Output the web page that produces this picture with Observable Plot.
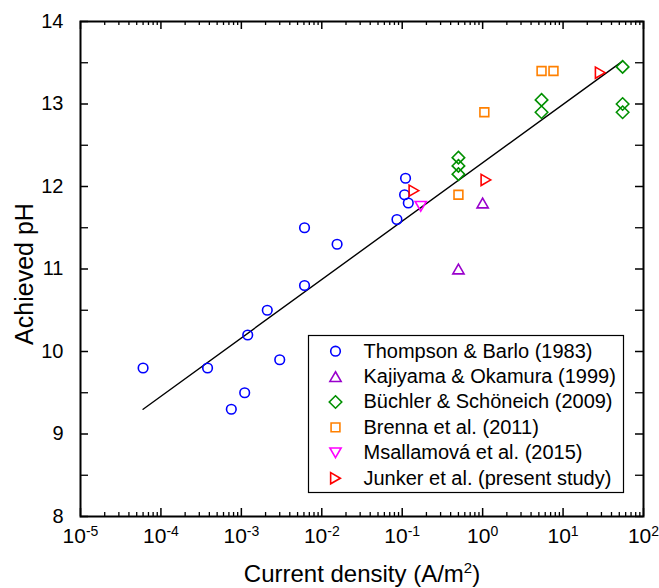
<!DOCTYPE html>
<html>
<head>
<meta charset="utf-8">
<script src="https://cdn.jsdelivr.net/npm/d3@7"></script>
<script src="https://cdn.jsdelivr.net/npm/@observablehq/plot@0.6"></script>
<style>
  html, body { margin: 0; padding: 0; background: #fff; }
  #chart { width: 659px; height: 588px; }
</style>
</head>
<body>
<div id="chart"></div>
<script>
// ---------------- data ----------------
const thompsonX = [6e-5, 3.8e-4, 7.5e-4, 1.1e-3, 1.2e-3, 2.1e-3, 3.0e-3, 6.1e-3, 6.1e-3, 0.0155, 0.086, 0.107, 0.110, 0.119];
const thompsonY = [9.8, 9.8, 9.3, 9.5, 10.2, 10.5, 9.9, 10.8, 11.5, 11.3, 11.6, 11.9, 12.1, 11.8];

const kajiyamaX = [0.5, 1.0];
const kajiyamaY = [11.0, 11.8];

const buchlerX = [0.5, 0.5, 0.5, 5.4, 5.4, 55, 55, 55];
const buchlerY = [12.35, 12.25, 12.15, 13.05, 12.9, 13.45, 13.0, 12.9];

const brennaX = [5.4, 7.6, 1.05, 0.5];
const brennaY = [13.4, 13.4, 12.9, 11.9];

const msallamovaX = [0.17];
const msallamovaY = [11.76];

const junkerX = [0.14, 1.1, 29];
const junkerY = [11.95, 12.08, 13.38];

const fitX = [6e-5, 55];
const fitY = [9.30, 13.52];

const seriesNames = [
  "Thompson & Barlo (1983)",
  "Kajiyama & Okamura (1999)",
  "Büchler & Schöneich (2009)",
  "Brenna et al. (2011)",
  "Msallamová et al. (2015)",
  "Junker et al. (present study)"
];
const seriesColors = ["#0000ff", "#9900cc", "#009000", "#ff8000", "#ff00ff", "#ff0000"];

const xTickValues = [1e-5, 1e-4, 1e-3, 1e-2, 1e-1, 1e0, 1e1, 1e2];
const xTickExponents = ["-5", "-4", "-3", "-2", "-1", "0", "1", "2"];
const yTickValues = [8, 9, 10, 11, 12, 13, 14];
const yMinorValues = [8.5, 9.5, 10.5, 11.5, 12.5, 13.5];

const xTitleMain = "Current density (A/m";
const xTitleSup = "2";
const xTitleEnd = ")";
const yTitle = "Achieved pH";

// ---------------- symbols ----------------
function sym(fn) { return { draw(ctx, size) { fn(ctx, Math.sqrt(size / Math.PI)); } }; }
const symCircle = sym((c, u) => { c.moveTo(u, 0); c.arc(0, 0, u, 0, 2 * Math.PI); c.closePath(); });
const symSquare = sym((c, u) => { const s = 0.92 * u; c.moveTo(-s, -s); c.lineTo(s, -s); c.lineTo(s, s); c.lineTo(-s, s); c.closePath(); });
const symDiamond = sym((c, u) => { const d = 1.3 * u; c.moveTo(0, -d); c.lineTo(d, 0); c.lineTo(0, d); c.lineTo(-d, 0); c.closePath(); });
const symUp = sym((c, u) => { const R = 1.35 * u; c.moveTo(0, -0.75 * R); c.lineTo(0.866 * R, 0.75 * R); c.lineTo(-0.866 * R, 0.75 * R); c.closePath(); });
const symDown = sym((c, u) => { const R = 1.35 * u; c.moveTo(0, 0.75 * R); c.lineTo(0.866 * R, -0.75 * R); c.lineTo(-0.866 * R, -0.75 * R); c.closePath(); });
const symRight = sym((c, u) => { const R = 1.35 * u; c.moveTo(0.75 * R, 0); c.lineTo(-0.75 * R, 0.866 * R); c.lineTo(-0.75 * R, -0.866 * R); c.closePath(); });

const seriesSymbols = [symCircle, symUp, symDiamond, symSquare, symDown, symRight];
const seriesX = [thompsonX, kajiyamaX, buchlerX, brennaX, msallamovaX, junkerX];
const seriesY = [thompsonY, kajiyamaY, buchlerY, brennaY, msallamovaY, junkerY];

// ---------------- layout ----------------
const W = 659, H = 588;
const mL = 80, mR = 16, mT = 21, mB = 72;
const fw = W - mL - mR, fh = H - mT - mB;
const R = 4.8, SW = 1.6;

const xMinor = [];
for (let e = -5; e < 2; e++) for (let k = 2; k <= 9; k++) xMinor.push(k * Math.pow(10, e));

const dotMarks = seriesNames.map((name, i) =>
  Plot.dot(seriesX[i].map((x, j) => ({x, y: seriesY[i][j]})), {
    x: "x", y: "y", symbol: seriesSymbols[i], r: R,
    stroke: seriesColors[i], strokeWidth: SW, fill: "none"
  })
);

const legendTop = 350.7 - mT, legendStep = 25.4;
const legendMarks = seriesNames.flatMap((name, i) => [
  Plot.dot([name], {frameAnchor: "top-left", dx: 335 - mL, dy: legendTop + i * legendStep,
    symbol: seriesSymbols[i], r: R, stroke: seriesColors[i], strokeWidth: SW, fill: "none"}),
  Plot.text([name], {frameAnchor: "top-left", dx: 363 - mL, dy: legendTop + i * legendStep,
    text: d => d, textAnchor: "start", lineAnchor: "middle", fontSize: 20, fill: "black"})
]);

const chart = Plot.plot({
  width: W, height: H,
  marginLeft: mL, marginRight: mR, marginTop: mT, marginBottom: mB,
  style: {fontFamily: "'Liberation Sans', Arial, sans-serif", background: "white", color: "black"},
  x: {type: "log", domain: [1e-5, 1e2]},
  y: {domain: [8, 14]},
  marks: [
    Plot.line(fitX.map((x, i) => ({x, y: fitY[i]})), {x: "x", y: "y", stroke: "black", strokeWidth: 1.4}),
    ...dotMarks,
    Plot.frame({insetLeft: 308 - mL, insetTop: 335 - mT, insetRight: W - mR - 623, insetBottom: H - mB - 492,
      fill: "white", stroke: "black", strokeWidth: 1.2}),
    ...legendMarks,
    // ticks (inward, mirrored)
    Plot.tickX(xTickValues, {x: d => d, insetTop: fh - 8, stroke: "black", strokeWidth: 1.5}),
    Plot.tickX(xTickValues, {x: d => d, insetBottom: fh - 8, stroke: "black", strokeWidth: 1.5}),
    Plot.tickX(xMinor, {x: d => d, insetTop: fh - 4, stroke: "black", strokeWidth: 1.3}),
    Plot.tickX(xMinor, {x: d => d, insetBottom: fh - 4, stroke: "black", strokeWidth: 1.3}),
    Plot.tickY(yTickValues, {y: d => d, insetRight: fw - 8, stroke: "black", strokeWidth: 1.5}),
    Plot.tickY(yTickValues, {y: d => d, insetLeft: fw - 8, stroke: "black", strokeWidth: 1.5}),
    Plot.tickY(yMinorValues, {y: d => d, insetRight: fw - 8, stroke: "black", strokeWidth: 1.3}),
    Plot.tickY(yMinorValues, {y: d => d, insetLeft: fw - 8, stroke: "black", strokeWidth: 1.3}),
    Plot.frame({stroke: "black", strokeWidth: 2}),
    Plot.axisX(xTickValues, {tickSize: 0, tickPadding: 12, fontSize: 21, label: null,
      tickFormat: d => "10^" + xTickExponents[xTickValues.indexOf(d)]}),
    Plot.axisY(yTickValues, {tickSize: 0, tickPadding: 17, fontSize: 20, label: null, tickFormat: d => String(d)}),
    Plot.text([xTitleMain + xTitleSup + xTitleEnd], {frameAnchor: "bottom", dy: 48, text: d => d, textAnchor: "middle", lineAnchor: "top", fontSize: 24, fill: "black"}),
    Plot.text([yTitle], {frameAnchor: "left", dx: -65, dy: 5, rotate: -90, text: d => d, textAnchor: "middle", lineAnchor: "top", fontSize: 25, fill: "black"})
  ]
});

document.getElementById("chart").appendChild(chart);

// superscripts
const NS = "http://www.w3.org/2000/svg";
chart.querySelectorAll('g[aria-label="x-axis tick label"] text').forEach(t => {
  const s = t.textContent;
  const m = s.match(/^10\^(.*)$/);
  if (!m) return;
  while (t.firstChild) t.removeChild(t.firstChild);
  t.appendChild(document.createTextNode("10"));
  const sup = document.createElementNS(NS, "tspan");
  sup.setAttribute("font-size", "14");
  sup.setAttribute("dy", "-7");
  sup.textContent = m[1];
  t.appendChild(sup);
});
chart.querySelectorAll("text").forEach(t => {
  if (t.textContent !== xTitleMain + xTitleSup + xTitleEnd) return;
  while (t.firstChild) t.removeChild(t.firstChild);
  t.appendChild(document.createTextNode(xTitleMain));
  const sup = document.createElementNS(NS, "tspan");
  sup.setAttribute("font-size", "15"); sup.setAttribute("dy", "-9"); sup.textContent = xTitleSup;
  t.appendChild(sup);
  const close = document.createElementNS(NS, "tspan");
  close.setAttribute("font-size", "24"); close.setAttribute("dy", "9"); close.textContent = xTitleEnd;
  t.appendChild(close);
});
</script>
</body>
</html>
